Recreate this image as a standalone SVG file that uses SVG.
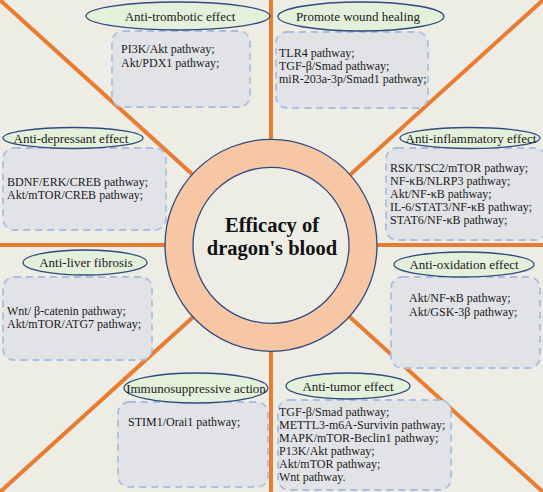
<svg xmlns="http://www.w3.org/2000/svg" width="543" height="492" viewBox="0 0 543 492">
<style>
.conn{stroke:#E97C30;stroke-width:4;fill:none}
.lbl{fill:#E3F0DA;stroke:#2F4B7C;stroke-width:1.3}
.box{fill:#E2E3E6;stroke:#A9BEE0;stroke-width:1.8;stroke-dasharray:7 5}
.lt{font-family:"Liberation Serif",serif;font-size:13px;fill:#1a1a1a;text-anchor:middle}
.pt{font-family:"Liberation Serif",serif;font-size:12px;fill:#1a1a1a}
.ct{font-family:"Liberation Serif",serif;font-size:20.5px;font-weight:bold;fill:#111;text-anchor:middle}
</style>
<rect width="543" height="492" fill="#EDEDE6"/>
<g id="connectors">
<line class="conn" x1="271" y1="0" x2="271" y2="492"/>
<line class="conn" x1="0" y1="245" x2="543" y2="245"/>
<line class="conn" x1="0" y1="0" x2="543" y2="492"/>
<line class="conn" x1="543" y1="0" x2="0" y2="492"/>
</g>
<g id="center">
<circle cx="271" cy="245.3" r="106" fill="#F7C6A5" stroke="#2F4B7C" stroke-width="1.3"/>
<circle cx="271" cy="245.3" r="78" fill="#EDEDE6" stroke="#2F4B7C" stroke-width="1.3"/>
<text class="ct" x="272" y="232">Efficacy of</text>
<text class="ct" x="272" y="255">dragon's blood</text>
</g>
<g id="anti-trombotic">
<rect class="box" x="112" y="31" width="138" height="76" rx="11"/>
<ellipse class="lbl" cx="178" cy="16" rx="92" ry="14"/>
<text class="lt" x="180" y="21">Anti-trombotic effect</text>
<text class="pt" x="121" y="52.5">PI3K/Akt pathway;</text>
<text class="pt" x="121" y="66.5">Akt/PDX1 pathway;</text>
</g>
<g id="wound-healing">
<rect class="box" x="276" y="32" width="152" height="76" rx="11"/>
<ellipse class="lbl" cx="361" cy="16.5" rx="83" ry="14.5"/>
<text class="lt" x="358" y="21">Promote wound healing</text>
<text class="pt" x="279" y="57">TLR4 pathway;</text>
<text class="pt" x="279" y="70">TGF-β/Smad pathway;</text>
<text class="pt" x="279" y="83">miR-203a-3p/Smad1 pathway;</text>
</g>
<g id="anti-depressant">
<rect class="box" x="3" y="148" width="163" height="82" rx="11"/>
<ellipse class="lbl" cx="73" cy="138" rx="70" ry="10.5"/>
<text class="lt" x="71" y="142.5">Anti-depressant effect</text>
<text class="pt" x="7" y="186">BDNF/ERK/CREB pathway;</text>
<text class="pt" x="7" y="199">Akt/mTOR/CREB pathway;</text>
</g>
<g id="anti-inflammatory">
<rect class="box" x="386" y="148" width="160" height="92" rx="11"/>
<ellipse class="lbl" cx="470" cy="138" rx="70" ry="10.5"/>
<text class="lt" x="471" y="142.5">Anti-inflammatory effect</text>
<text class="pt" x="390" y="172">RSK/TSC2/mTOR pathway;</text>
<text class="pt" x="390" y="185">NF-κB/NLRP3 pathway;</text>
<text class="pt" x="390" y="198">Akt/NF-κB pathway;</text>
<text class="pt" x="390" y="211">IL-6/STAT3/NF-κB pathway;</text>
<text class="pt" x="390" y="224">STAT6/NF-κB pathway;</text>
</g>
<g id="anti-liver-fibrosis">
<rect class="box" x="3" y="277" width="149" height="83" rx="11"/>
<ellipse class="lbl" cx="85" cy="262.5" rx="62" ry="12.5"/>
<text class="lt" x="86" y="267">Anti-liver fibrosis</text>
<text class="pt" x="7" y="315">Wnt/ β-catenin pathway;</text>
<text class="pt" x="7" y="328">Akt/mTOR/ATG7 pathway;</text>
</g>
<g id="anti-oxidation">
<rect class="box" x="391" y="277" width="149" height="91" rx="11"/>
<ellipse class="lbl" cx="464" cy="264.5" rx="70" ry="12.5"/>
<text class="lt" x="464" y="269">Anti-oxidation effect</text>
<text class="pt" x="409" y="302">Akt/NF-κB pathway;</text>
<text class="pt" x="409" y="316">Akt/GSK-3β pathway;</text>
</g>
<g id="immunosuppressive">
<rect class="box" x="118" y="402" width="150" height="85" rx="11"/>
<ellipse class="lbl" cx="196" cy="388" rx="72" ry="15"/>
<text class="lt" x="196" y="392.5">Immunosuppressive action</text>
<text class="pt" x="128" y="426">STIM1/Orai1 pathway;</text>
</g>
<g id="anti-tumor">
<rect class="box" x="278" y="400" width="173" height="90" rx="11"/>
<ellipse class="lbl" cx="348" cy="386" rx="62" ry="13"/>
<text class="lt" x="348" y="390.5">Anti-tumor effect</text>
<text class="pt" x="279" y="416">TGF-β/Smad pathway;</text>
<text class="pt" x="279" y="429">METTL3-m6A-Survivin pathway;</text>
<text class="pt" x="279" y="442">MAPK/mTOR-Beclin1 pathway;</text>
<text class="pt" x="279" y="455">P13K/Akt pathway;</text>
<text class="pt" x="279" y="468">Akt/mTOR pathway;</text>
<text class="pt" x="279" y="481">Wnt pathway.</text>
</g>
</svg>
